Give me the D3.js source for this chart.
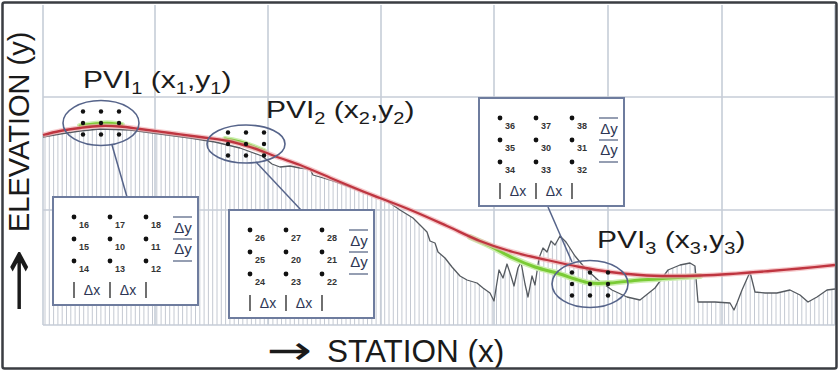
<!DOCTYPE html>
<html><head><meta charset="utf-8">
<script src="https://cdn.jsdelivr.net/npm/d3@7"></script>
<style>html,body{margin:0;padding:0;background:#fff;} svg{display:block;}</style>
</head><body>
<svg id="c" width="839" height="375"></svg>
<script>
// ---- data (station, elevation in arbitrary units) ----
const terrainStation = [0,17,37,57,87,117,147,172,197,219,229,237,247,257,267,270,277,290,304,317,330,344,357,370,377,384,387,392,395,402,409,417,424,434,440,447,451,456,460,464,468,471,475,478,482,485,489,492,496,500,504,508,512,517,523,532,542,555,569,584,597,612,625,637,647,652,655,672,687,691,694,699,707,712,722,734,747,757,765,774,784,792];
const terrainElev    = [188,191,194,196,195,191,187,183,177,169,161,158,159,157,156,150,148,144,139,134,129,124,115,107,100,93,84,82,73,67,58,49,45,42,37,32,24,55,47,61,49,39,57,63,41,28,49,40,67,77,73,84,80,89,83,69,57,45,35,28,25,37,55,60,62,59,23,23,22,15,22,35,53,33,32,32,35,30,23,28,35,36];

const gradeStation = [0,17,37,57,77,97,127,157,185,207,221,237,257,290,324,337,370,404,437,470,504,537,567,597,627,657,687,727,757,792];
const gradeElev    = [190,194,197,199,198.5,196,192,188,184,178,173,167,160,146,132,127,114,99,84,73,65,58,53,50,49,49.5,51,54,56.5,60];

const curve1Station = [37,47,58,69,79];
const curve1Elev    = [199,200.5,201.5,201.5,200];
const curve2Station = [182,195,207,221];
const curve2Elev    = [186,183.5,179.5,174];
const curve3Station = [427,447,470,492,517,532,547,567,597,627,657];
const curve3Elev    = [88,79,67,58,51,46,42,42,45,47,49];

const gridStations   = [0,112,225,338,451,565,679,792];
const gridElevations = [0,115,228];

const pviIds      = ["1","2","3"];
const pviStation  = [58,203,547];
const pviElev     = [202,181,41];
const nodeSuffix  = [["6","7","8"],["5","0","1"],["4","3","2"]];

// ---- drawing ----
const svg = d3.select("#c");
const FONT = "'Liberation Sans', Arial, Helvetica, sans-serif";
const x = d3.scaleLinear().domain([0,792]).range([43,835]);
const y = d3.scaleLinear().domain([0,320]).range([325,5]);

const zip = (s,e)=>s.map((v,i)=>({s:v,e:e[i]}));
const terrain = zip(terrainStation, terrainElev);

// clip for hatching
svg.append("defs").append("clipPath").attr("id","under")
  .append("path")
  .attr("d", d3.area().x(d=>x(d.s)).y0(y(0)).y1(d=>y(d.e))(terrain));

// hatching
svg.append("g").attr("clip-path","url(#under)")
  .selectAll("line").data(d3.range(2,792,4.3)).join("line")
  .attr("x1",d=>x(d)).attr("x2",d=>x(d))
  .attr("y1",y(320)).attr("y2",y(0))
  .attr("stroke","#c4c9d2").attr("stroke-width",1);

// grid
const grid = svg.append("g").attr("stroke","#c6cdd7").attr("stroke-width",1.6);
grid.selectAll(".gx").data(gridStations).join("line")
  .attr("x1",d=>x(d)).attr("x2",d=>x(d)).attr("y1",y(320)).attr("y2",y(0));
grid.selectAll(".gy").data(gridElevations).join("line")
  .attr("x1",x(0)).attr("x2",x(792)).attr("y1",d=>y(d)).attr("y2",d=>y(d));

// terrain line
const lin = d3.line().x(d=>x(d.s)).y(d=>y(d.e));
svg.append("path").attr("d",lin(terrain)).attr("fill","none")
  .attr("stroke","#555a60").attr("stroke-width",1.3).attr("stroke-linejoin","round");

// curves
const smooth = d3.line().x(d=>x(d.s)).y(d=>y(d.e)).curve(d3.curveCatmullRom.alpha(0.5));
[[curve1Station,curve1Elev],[curve2Station,curve2Elev],[curve3Station,curve3Elev]].forEach(([s,e])=>{
  const p = smooth(zip(s,e));
  svg.append("path").attr("d",p).attr("fill","none").attr("stroke","#cdeeb0").attr("stroke-width",6).attr("stroke-linecap","round");
  svg.append("path").attr("d",p).attr("fill","none").attr("stroke","#7acb35").attr("stroke-width",3).attr("stroke-linecap","round");
});
const gp = smooth(zip(gradeStation,gradeElev));
svg.append("path").attr("d",gp).attr("fill","none").attr("stroke","#f1b0b4").attr("stroke-width",5).attr("opacity",0.7);
svg.append("path").attr("d",gp).attr("fill","none").attr("stroke","#bf3540").attr("stroke-width",2.3);

// ellipses + dots
const ell = [{rx:38,ry:22.5},{rx:39,ry:19},{rx:38,ry:23.5}];
pviIds.forEach((id,i)=>{
  const cx = x(pviStation[i]), cy = y(pviElev[i]);
  svg.append("ellipse").attr("cx",cx).attr("cy",cy).attr("rx",ell[i].rx).attr("ry",ell[i].ry)
    .attr("fill","none").attr("stroke","#56648a").attr("stroke-width",1.6);
  for(let r=-1;r<=1;r++) for(let c=-1;c<=1;c++)
    svg.append("circle").attr("cx",cx+c*18).attr("cy",cy+r*11.5).attr("r",2.2).attr("fill","#111");
});

// leader lines
const leaders = [[112,145,127,197],[256,162,301,210],[548,207,572,262]];
leaders.forEach(l=>svg.append("line").attr("x1",l[0]).attr("y1",l[1]).attr("x2",l[2]).attr("y2",l[3])
  .attr("stroke","#56648a").attr("stroke-width",1.5));

// detail boxes
const boxes = [{x:53,y:197},{x:229,y:210},{x:479,y:98}];
boxes.forEach((b,i)=>{
  const g = svg.append("g").attr("transform",`translate(${b.x},${b.y})`);
  g.append("rect").attr("width",145).attr("height",108).attr("fill","#fff")
    .attr("stroke","#6e7c9e").attr("stroke-width",2);
  const cols=[21,57,93], rows=[20,42,64];
  rows.forEach((ry,r)=>cols.forEach((cx,c)=>{
    g.append("circle").attr("cx",cx).attr("cy",ry).attr("r",2.4).attr("fill","#111");
    g.append("text").attr("x",cx+5).attr("y",ry+11).attr("font-family",FONT)
      .attr("font-size",9).attr("font-weight","bold").attr("fill","#333")
      .text(pviIds[i]+nodeSuffix[r][c]);
  }));
  rows.forEach(ry=>g.append("line").attr("x1",120).attr("x2",139).attr("y1",ry).attr("y2",ry)
    .attr("stroke","#8a94aa").attr("stroke-width",1.8));
  [35.5,56.5].forEach(by=>g.append("text").attr("x",130).attr("y",by).attr("text-anchor","middle")
    .attr("font-family",FONT).attr("font-size",15).attr("fill","#2e3654").text("Δy"));
  cols.forEach(cx=>g.append("line").attr("x1",cx).attr("x2",cx).attr("y1",85).attr("y2",101)
    .attr("stroke","#333").attr("stroke-width",1.4));
  [39,75].forEach(cx=>g.append("text").attr("x",cx).attr("y",98).attr("text-anchor","middle")
    .attr("font-family",FONT).attr("font-size",14).attr("fill","#2e3654").text("Δx"));
});

// PVI labels
const labelPos = [[83,88],[266,118],[597,248]];
pviIds.forEach((id,i)=>{
  const t = svg.append("text").attr("transform",`translate(${labelPos[i][0]},${labelPos[i][1]}) scale(1.25,1)`)
    .attr("font-family",FONT).attr("font-size",24).attr("fill","#1c1c1c");
  t.append("tspan").text("PVI");
  t.append("tspan").attr("font-size",16).attr("dy",6).text(id);
  t.append("tspan").attr("dy",-6).text(" (x");
  t.append("tspan").attr("font-size",16).attr("dy",6).text(id);
  t.append("tspan").attr("dy",-6).text(",y");
  t.append("tspan").attr("font-size",16).attr("dy",6).text(id);
  t.append("tspan").attr("dy",-6).text(")");
});

// axis titles
const ARROWFONT = "'DejaVu Sans', sans-serif";
svg.append("text").attr("transform","translate(267,364) scale(1.35,1)")
  .attr("font-family",ARROWFONT).attr("font-size",40).attr("fill","#1a1a1a").text("→");
svg.append("text").attr("x",327).attr("y",362)
  .attr("font-family",FONT).attr("font-size",31.5).attr("fill","#1a1a1a").text("STATION (x)");
svg.append("text").attr("transform","translate(19,309) scale(1,1.85)").attr("text-anchor","middle")
  .attr("font-family",ARROWFONT).attr("font-size",42).attr("fill","#1a1a1a").text("↑");
svg.append("text").attr("transform","translate(29,232) rotate(-90)")
  .attr("font-family",FONT).attr("font-size",29).attr("fill","#1a1a1a").text("ELEVATION (y)");

// outer frame
svg.append("rect").attr("x",2.5).attr("y",2.5).attr("width",834).attr("height",366)
  .attr("fill","none").attr("stroke","#3a3d42").attr("stroke-width",2.5).attr("rx",2);
</script>
</body></html>
